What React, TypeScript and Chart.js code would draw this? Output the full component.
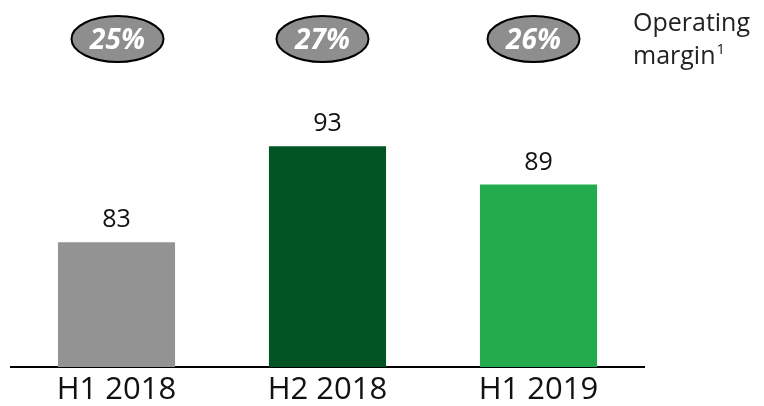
import React, { useEffect, useRef } from "react";
import { Chart, registerables } from "chart.js";

Chart.register(...registerables);

const categories = ["H1 2018", "H2 2018", "H1 2019"];
const values = [83, 93, 89];
const barColors = ["#939393", "#035424", "#23AB4E"];
const margins = ["25%", "27%", "26%"];
const marginTitle = ["Operating", "margin"];
const marginFootnote = "1";

const FONT = "'Open Sans', 'Noto Sans', sans-serif";

const overlayPlugin = {
  id: "overlay",
  afterDatasetsDraw(chart: any) {
    const ctx = chart.ctx;
    const meta = chart.getDatasetMeta(0);
    ctx.save();
    // value labels
    ctx.fillStyle = "#111111";
    ctx.font = `25px ${FONT}`;
    ctx.textAlign = "center";
    ctx.textBaseline = "alphabetic";
    meta.data.forEach((bar: any, i: number) => {
      ctx.fillText(String(values[i]), bar.x, bar.y - 15);
    });
    // margin ellipses
    const xScale = chart.scales.x;
    margins.forEach((m, i) => {
      const cx = xScale.getPixelForValue(i) + (i === 0 ? 1 : -5);
      const cy = 39;
      ctx.beginPath();
      ctx.ellipse(cx, cy, 46, 23, 0, 0, Math.PI * 2);
      ctx.fillStyle = "#8E8E8E";
      ctx.fill();
      ctx.lineWidth = 2;
      ctx.strokeStyle = "#000000";
      ctx.stroke();
      ctx.fillStyle = "#FFFFFF";
      ctx.font = `italic bold 28px ${FONT}`;
      ctx.textAlign = "center";
      ctx.textBaseline = "alphabetic";
      ctx.fillText(m, cx, cy + 10);
    });
    // side title
    ctx.fillStyle = "#222222";
    ctx.textAlign = "left";
    ctx.font = `25px ${FONT}`;
    ctx.fillText(marginTitle[0], 633, 31);
    ctx.fillText(marginTitle[1], 633, 64);
    const w = ctx.measureText(marginTitle[1]).width;
    ctx.font = `15px ${FONT}`;
    ctx.fillText(marginFootnote, 633 + w + 1, 54);
    ctx.restore();
  },
};

export default function App() {
  const ref = useRef<HTMLCanvasElement>(null);
  useEffect(() => {
    document.body.style.margin = "0";
    const chart = new Chart(ref.current!, {
      type: "bar",
      data: {
        labels: categories,
        datasets: [
          {
            data: values,
            backgroundColor: barColors,
            borderWidth: 0,
            categoryPercentage: 1,
            barPercentage: 0.555,
          },
        ],
      },
      options: {
        responsive: false,
        animation: false,
        layout: { padding: { top: 79, left: 11, right: 120, bottom: 0 } },
        plugins: { legend: { display: false }, tooltip: { enabled: false } },
        scales: {
          y: { display: false, min: 70, max: 100 },
          x: {
            grid: { display: false, drawTicks: false },
            border: { display: true, color: "#000000", width: 2 },
            ticks: {
              color: "#111111",
              font: { family: FONT, size: 31 },
              padding: 5,
              maxRotation: 0,
            },
            afterFit: (s: any) => {
              s.height = 39;
            },
          },
        },
      },
      plugins: [overlayPlugin],
    });
    return () => chart.destroy();
  }, []);
  return <canvas ref={ref} width={764} height={406} style={{ display: "block" }} />;
}
